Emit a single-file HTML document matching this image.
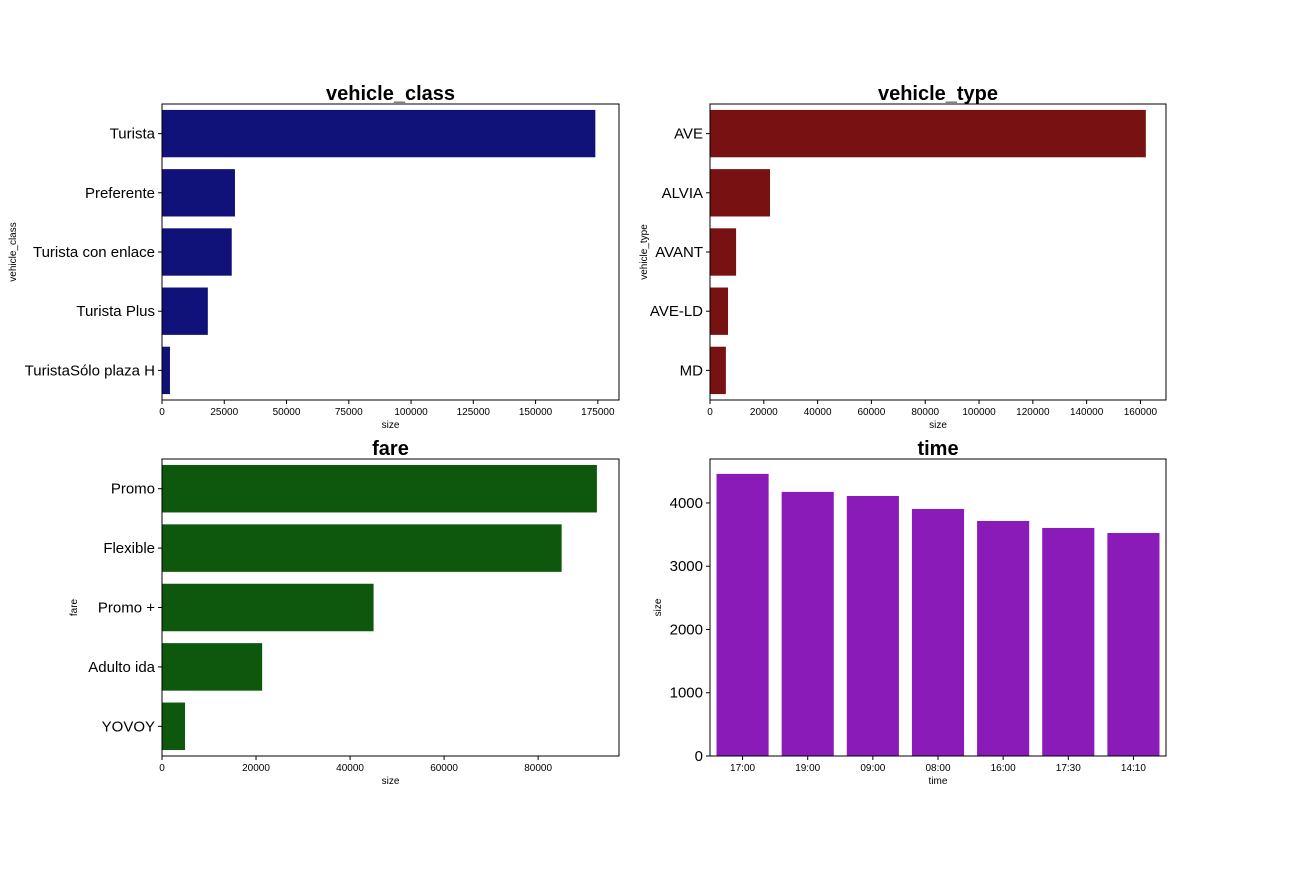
<!DOCTYPE html>
<html><head><meta charset="utf-8"><style>
body{margin:0;background:#fff;}
svg text{font-family:"Liberation Sans","DejaVu Sans",sans-serif;}
</style></head><body>
<svg id="fig" width="1296" height="864" xmlns="http://www.w3.org/2000/svg"></svg>
<script>
const classCats=["Turista","Preferente","Turista con enlace","Turista Plus","TuristaSólo plaza H"];
const classVals=[174000,29300,28000,18400,3200];
const classTicks=[0,25000,50000,75000,100000,125000,150000,175000];
const typeCats=["AVE","ALVIA","AVANT","AVE-LD","MD"];
const typeVals=[162000,22300,9700,6700,5900];
const typeTicks=[0,20000,40000,60000,80000,100000,120000,140000,160000];
const fareCats=["Promo","Flexible","Promo +","Adulto ida","YOVOY"];
const fareVals=[92500,85000,45000,21300,4900];
const fareTicks=[0,20000,40000,60000,80000];
const timeCats=["17:00","19:00","09:00","08:00","16:00","17:30","14:10"];
const timeVals=[4460,4175,4110,3905,3715,3605,3525];
const timeTicks=[0,1000,2000,3000,4000];

const svg=document.getElementById('fig');
const NS="http://www.w3.org/2000/svg";
function mk(tag,attrs,name,text){const e=document.createElementNS(NS,tag);for(const k in attrs)e.setAttribute(k,attrs[k]);


if(text!==undefined)e.textContent=text;svg.appendChild(e);return e;}

function hbar(x0,y0,w,h,cats,vals,ticks,xmax,color,title,ylab,id){
  const sx=v=>x0+v/xmax*w;const band=h/cats.length;
  cats.forEach((c,i)=>{
    mk('rect',{x:x0,y:y0+band*i+band*0.1,width:sx(vals[i])-x0,height:band*0.8,fill:color},id+'-bar-'+i);
    mk('line',{x1:x0-4,x2:x0,y1:y0+band*(i+.5),y2:y0+band*(i+.5),stroke:'#000'},id+'-ytick-'+i);
    mk('text',{x:x0-7,y:y0+band*(i+.5)+5,'text-anchor':'end','font-size':15},id+'-ylabel-'+i,c);
  });
  ticks.forEach((t,i)=>{
    mk('line',{x1:sx(t),x2:sx(t),y1:y0+h,y2:y0+h+4,stroke:'#000'},id+'-xtick-'+i);
    mk('text',{x:sx(t),y:y0+h+15,'text-anchor':'middle','font-size':10},id+'-xtick-label-'+i,String(t));
  });
  mk('rect',{x:x0,y:y0,width:w,height:h,fill:'none',stroke:'#000','stroke-width':1},id+'-frame');
  mk('text',{x:x0+w/2,y:y0-4,'text-anchor':'middle','font-size':20,'font-weight':'bold'},id+'-title',title);
  mk('text',{x:x0+w/2,y:y0+h+28,'text-anchor':'middle','font-size':10},id+'-x-axis-title','size');
  mk('text',{x:0,y:0,'text-anchor':'middle','font-size':10,transform:`translate(${ylab},${y0+h/2}) rotate(-90)`},id+'-y-axis-title',title);
}
hbar(162,104,457,296,classCats,classVals,classTicks,183500,'#10127a','vehicle_class',16,'vehicle-class');
hbar(710,104,456,296,typeCats,typeVals,typeTicks,169500,'#781212','vehicle_type',647,'vehicle-type');
hbar(162,459,457,297,fareCats,fareVals,fareTicks,97200,'#0d580d','fare',77,'fare');

(function(){
  const x0=710,y0=459,w=456,h=297,ymax=4695,id='time';
  const sy=v=>y0+h-v/ymax*h;const band=w/timeCats.length;
  timeCats.forEach((c,i)=>{
    mk('rect',{x:x0+band*i+band*0.1,y:sy(timeVals[i]),width:band*0.8,height:y0+h-sy(timeVals[i]),fill:'#8a1bb8'},id+'-bar-'+i);
    mk('line',{x1:x0+band*(i+.5),x2:x0+band*(i+.5),y1:y0+h,y2:y0+h+4,stroke:'#000'},id+'-xtick-'+i);
    mk('text',{x:x0+band*(i+.5),y:y0+h+15,'text-anchor':'middle','font-size':10},id+'-xtick-label-'+i,c);
  });
  timeTicks.forEach((t,i)=>{
    mk('line',{x1:x0-4,x2:x0,y1:sy(t),y2:sy(t),stroke:'#000'},id+'-ytick-'+i);
    mk('text',{x:x0-7,y:sy(t)+5,'text-anchor':'end','font-size':15},id+'-ytick-label-'+i,String(t));
  });
  mk('rect',{x:x0,y:y0,width:w,height:h,fill:'none',stroke:'#000'},id+'-frame');
  mk('text',{x:x0+w/2,y:y0-4,'text-anchor':'middle','font-size':20,'font-weight':'bold'},id+'-title','time');
  mk('text',{x:x0+w/2,y:y0+h+28,'text-anchor':'middle','font-size':10},id+'-x-axis-title','time');
  mk('text',{x:0,y:0,'text-anchor':'middle','font-size':10,transform:`translate(661,${y0+h/2}) rotate(-90)`},id+'-y-axis-title','size');
})();
</script>
</body></html>
